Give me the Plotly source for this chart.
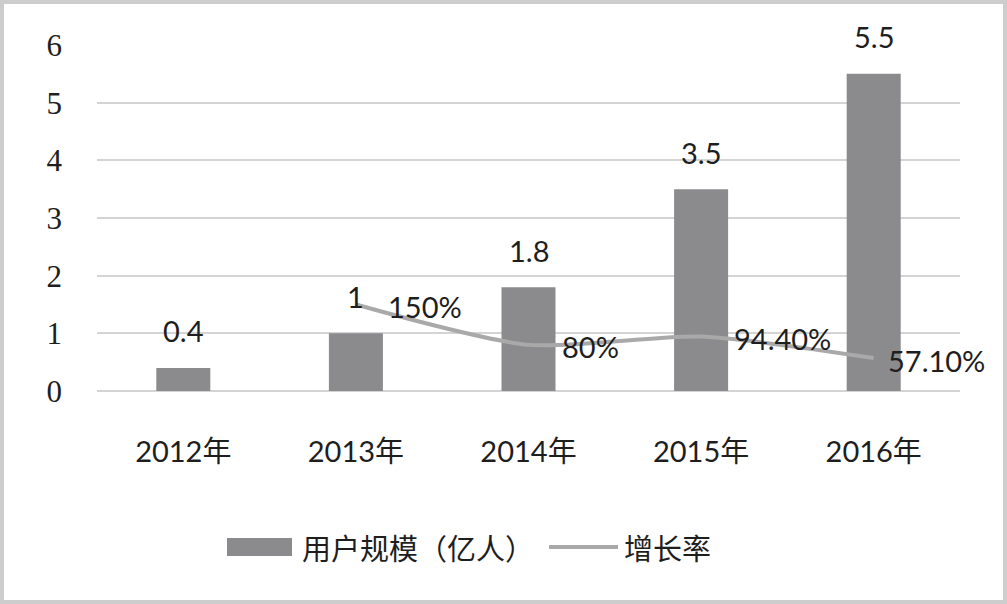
import plotly.graph_objects as go

# ---- data ----
years = ["2012年", "2013年", "2014年", "2015年", "2016年"]
users = [0.4, 1, 1.8, 3.5, 5.5]
user_labels = ["0.4", "1", "1.8", "3.5", "5.5"]
rate_years = ["2013年", "2014年", "2015年", "2016年"]
rate = [1.5, 0.8, 0.944, 0.571]
rate_labels = ["150%", "80%", "94.40%", "57.10%"]
y_ticks = [0, 1, 2, 3, 4, 5, 6]

W, H = 1007, 604
L, R, T, B = 97, 47, 45, 213
PW, PH = W - L - R, H - T - B

def px(x):
    return (x - L) / PW

def py(y):
    return (H - B - y) / PH

BAR_C = "#8b8b8e"
LINE_C = "#a9a9a9"
TXT = "#1e1e1e"
LAB_FONT = "Lato, Open Sans, Noto Sans CJK SC"
CJK_FONT = "Noto Sans CJK SC"
FS = 29

fig = go.Figure()
fig.add_trace(go.Bar(x=years, y=users, marker=dict(color=BAR_C, line=dict(width=0)),
                     width=0.313, name="用户规模（亿人）", showlegend=False))
fig.add_trace(go.Scatter(x=rate_years, y=rate, mode="lines", name="增长率",
                         line=dict(color=LINE_C, width=4, shape="spline", smoothing=0.7),
                         showlegend=False))

ann = []
for x, y, t in zip(years, users, user_labels):
    ann.append(dict(x=x, y=y, text=t, showarrow=False, yanchor="middle", yshift=37,
                    font=dict(family=LAB_FONT, size=FS, color=TXT)))
xs = [30, 31, 31, 12]
for (x, y, t), s in zip(zip(rate_years, rate, rate_labels), xs):
    ann.append(dict(x=x, y=y, text=t, showarrow=False, xanchor="left", yanchor="middle",
                    xshift=s, yshift=-2, font=dict(family=LAB_FONT, size=FS, color=TXT)))

# manual legend
shapes = [
    dict(type="rect", xref="paper", yref="paper", x0=px(227), x1=px(292), y0=py(538), y1=py(556),
         fillcolor=BAR_C, line=dict(width=0)),
    dict(type="line", xref="paper", yref="paper", x0=px(549), x1=px(618), y0=py(547), y1=py(547),
         line=dict(color=LINE_C, width=4)),
    dict(type="rect", xref="paper", yref="paper", x0=px(2), x1=px(1005), y0=py(2), y1=py(602),
         line=dict(color="#cdcdcd", width=4), fillcolor="rgba(0,0,0,0)", layer="above"),
]
ann.append(dict(xref="paper", yref="paper", x=px(300), y=py(547), text="用户规模（亿人）",
                showarrow=False, xanchor="left", yanchor="middle",
                font=dict(family=CJK_FONT, size=FS, color=TXT)))
ann.append(dict(xref="paper", yref="paper", x=px(622), y=py(547), text="增长率",
                showarrow=False, xanchor="left", yanchor="middle",
                font=dict(family=CJK_FONT, size=FS, color=TXT)))

fig.update_layout(
    width=W, height=H,
    margin=dict(l=L, r=R, t=T, b=B),
    paper_bgcolor="white", plot_bgcolor="white",
    annotations=ann, shapes=shapes,
    xaxis=dict(type="category", categoryorder="array", categoryarray=years,
               range=[-0.5, len(years) - 0.5],
               showgrid=False, zeroline=False, showline=False, ticks="",
               tickfont=dict(family="Lato, Noto Sans CJK SC", size=FS, color=TXT),
               ticklabelstandoff=41),
    yaxis=dict(range=[0, 6], tickvals=y_ticks, showgrid=True, gridcolor="#d4d4d4", gridwidth=1.5,
               zeroline=True, zerolinecolor="#d4d4d4", zerolinewidth=1.5, showline=False, ticks="",
               tickfont=dict(family="Liberation Serif", size=31, color=TXT),
               ticklabelstandoff=34),
)

fig.write_html("out.html", config={"displayModeBar": False},
               post_script="document.body.style.margin='0';document.body.style.overflow='hidden';")
